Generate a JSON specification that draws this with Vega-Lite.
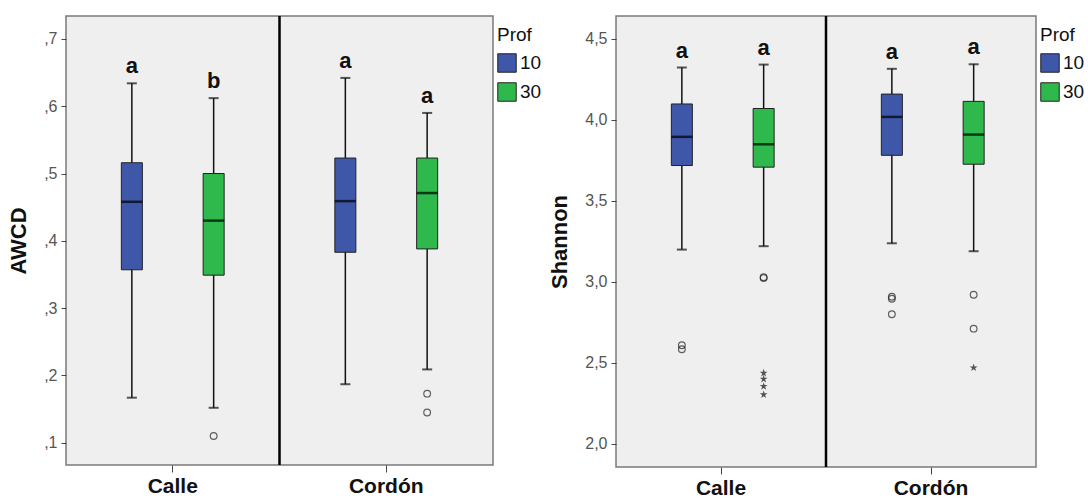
{
  "$schema": "https://vega.github.io/schema/vega-lite/v6.json",
  "padding": {"left": 6, "top": 14, "right": 0, "bottom": 0},
  "spacing": 5,
  "datasets": {
    "awcd": [
      {"Zona": "Calle", "Prof": "10", "lower": 0.167, "q1": 0.357, "median": 0.458, "q3": 0.516, "upper": 0.634, "Letra": "a"},
      {"Zona": "Calle", "Prof": "30", "lower": 0.152, "q1": 0.349, "median": 0.430, "q3": 0.500, "upper": 0.612, "Letra": "b"},
      {"Zona": "Cordón", "Prof": "10", "lower": 0.187, "q1": 0.383, "median": 0.459, "q3": 0.523, "upper": 0.642, "Letra": "a"},
      {"Zona": "Cordón", "Prof": "30", "lower": 0.209, "q1": 0.388, "median": 0.471, "q3": 0.523, "upper": 0.590, "Letra": "a"}
    ],
    "awcdOut": [
      {"Zona": "Calle", "Prof": "30", "valor": 0.110, "Tipo": "o"},
      {"Zona": "Cordón", "Prof": "30", "valor": 0.173, "Tipo": "o"},
      {"Zona": "Cordón", "Prof": "30", "valor": 0.145, "Tipo": "o"}
    ],
    "shannon": [
      {"Zona": "Calle", "Prof": "10", "lower": 3.198, "q1": 3.717, "median": 3.894, "q3": 4.097, "upper": 4.322, "Letra": "a"},
      {"Zona": "Calle", "Prof": "30", "lower": 3.219, "q1": 3.707, "median": 3.848, "q3": 4.069, "upper": 4.340, "Letra": "a"},
      {"Zona": "Cordón", "Prof": "10", "lower": 3.237, "q1": 3.780, "median": 4.017, "q3": 4.158, "upper": 4.314, "Letra": "a"},
      {"Zona": "Cordón", "Prof": "30", "lower": 3.188, "q1": 3.725, "median": 3.908, "q3": 4.113, "upper": 4.342, "Letra": "a"}
    ],
    "shannonOut": [
      {"Zona": "Calle", "Prof": "10", "valor": 2.608, "Tipo": "o"},
      {"Zona": "Calle", "Prof": "10", "valor": 2.583, "Tipo": "o"},
      {"Zona": "Calle", "Prof": "30", "valor": 3.028, "Tipo": "o"},
      {"Zona": "Calle", "Prof": "30", "valor": 3.022, "Tipo": "o"},
      {"Zona": "Calle", "Prof": "30", "valor": 2.436, "Tipo": "*"},
      {"Zona": "Calle", "Prof": "30", "valor": 2.399, "Tipo": "*"},
      {"Zona": "Calle", "Prof": "30", "valor": 2.354, "Tipo": "*"},
      {"Zona": "Calle", "Prof": "30", "valor": 2.303, "Tipo": "*"},
      {"Zona": "Cordón", "Prof": "10", "valor": 2.907, "Tipo": "o"},
      {"Zona": "Cordón", "Prof": "10", "valor": 2.895, "Tipo": "o"},
      {"Zona": "Cordón", "Prof": "10", "valor": 2.799, "Tipo": "o"},
      {"Zona": "Cordón", "Prof": "30", "valor": 2.919, "Tipo": "o"},
      {"Zona": "Cordón", "Prof": "30", "valor": 2.710, "Tipo": "o"},
      {"Zona": "Cordón", "Prof": "30", "valor": 2.469, "Tipo": "*"}
    ],
    "sep": [{"Zona": "Calle"}]
  },
  "hconcat": [
    {
      "width": 427,
      "height": 449,
      "layer": [
        {
          "data": {"name": "awcd"},
          "mark": {"type": "rule", "color": "#111", "strokeWidth": 1.5},
          "encoding": {
            "x": {"field": "Zona", "type": "nominal", "title": null, "sort": ["Calle", "Cordón"], "scale": {"domain": ["Calle", "Cordón"], "paddingInner": 0, "paddingOuter": 0}, "axis": {"labelAngle": 0}},
            "xOffset": {"field": "Prof", "type": "nominal", "scale": {"domain": ["10", "30"], "paddingInner": 0, "paddingOuter": 0.305}},
            "y": {"field": "lower", "type": "quantitative", "title": "AWCD", "scale": {"domain": [0.067, 0.734], "nice": false, "zero": false}, "axis": {"values": [0.1, 0.2, 0.3, 0.4, 0.5, 0.6, 0.7], "labelExpr": "replace(format(datum.value, '.1f'), '0.', ',')"}},
            "y2": {"field": "upper"}
          }
        },
        {
          "data": {"name": "awcd"},
          "mark": {"type": "tick", "color": "#111", "size": 10, "thickness": 2},
          "encoding": {
            "x": {"field": "Zona", "type": "nominal", "title": null},
            "xOffset": {"field": "Prof", "type": "nominal"},
            "y": {"field": "upper", "type": "quantitative", "title": "AWCD"}
          }
        },
        {
          "data": {"name": "awcd"},
          "mark": {"type": "tick", "color": "#111", "size": 10, "thickness": 2},
          "encoding": {
            "x": {"field": "Zona", "type": "nominal", "title": null},
            "xOffset": {"field": "Prof", "type": "nominal"},
            "y": {"field": "lower", "type": "quantitative", "title": "AWCD"}
          }
        },
        {
          "data": {"name": "awcd"},
          "mark": {"type": "bar", "width": 21, "stroke": "#222", "strokeWidth": 1, "opacity": 1},
          "encoding": {
            "x": {"field": "Zona", "type": "nominal", "title": null},
            "xOffset": {"field": "Prof", "type": "nominal"},
            "y": {"field": "q1", "type": "quantitative", "title": "AWCD"},
            "y2": {"field": "q3"},
            "color": {"field": "Prof", "type": "nominal", "scale": {"domain": ["10", "30"], "range": ["#3e57a9", "#2fb84b"]}, "legend": {"title": "Prof", "legendX": 431, "legendY": 10}}
          }
        },
        {
          "data": {"name": "awcd"},
          "mark": {"type": "tick", "color": "#000", "size": 21, "thickness": 2.5},
          "encoding": {
            "x": {"field": "Zona", "type": "nominal", "title": null},
            "xOffset": {"field": "Prof", "type": "nominal"},
            "y": {"field": "median", "type": "quantitative", "title": "AWCD"}
          }
        },
        {
          "data": {"name": "awcdOut"},
          "mark": {"type": "point", "shape": "circle", "filled": false, "size": 45, "color": "#222", "strokeWidth": 1.2},
          "encoding": {
            "x": {"field": "Zona", "type": "nominal", "title": null},
            "xOffset": {"field": "Prof", "type": "nominal"},
            "y": {"field": "valor", "type": "quantitative", "title": "AWCD"}
          }
        },
        {
          "data": {"name": "awcd"},
          "mark": {"type": "text", "fontSize": 22, "fontWeight": "bold", "color": "#111", "dy": -17, "baseline": "middle"},
          "encoding": {
            "x": {"field": "Zona", "type": "nominal", "title": null},
            "xOffset": {"field": "Prof", "type": "nominal"},
            "y": {"field": "upper", "type": "quantitative", "title": "AWCD"},
            "text": {"field": "Letra"}
          }
        },
        {
          "data": {"name": "sep"},
          "mark": {"type": "rule", "color": "#000", "strokeWidth": 2.5},
          "encoding": {
            "x": {"field": "Zona", "type": "nominal", "title": null, "bandPosition": 1}
          }
        }
      ]
    },
    {
      "width": 420,
      "height": 451,
      "layer": [
        {
          "data": {"name": "shannon"},
          "mark": {"type": "rule", "color": "#111", "strokeWidth": 1.5},
          "encoding": {
            "x": {"field": "Zona", "type": "nominal", "title": null, "sort": ["Calle", "Cordón"], "scale": {"domain": ["Calle", "Cordón"], "paddingInner": 0, "paddingOuter": 0}, "axis": {"labelAngle": 0}},
            "xOffset": {"field": "Prof", "type": "nominal", "scale": {"domain": ["10", "30"], "paddingInner": 0, "paddingOuter": 0.31}},
            "y": {"field": "lower", "type": "quantitative", "title": "Shannon", "scale": {"domain": [1.856, 4.64], "nice": false, "zero": false}, "axis": {"values": [2.0, 2.5, 3.0, 3.5, 4.0, 4.5], "labelExpr": "replace(format(datum.value, '.1f'), '.', ',')"}},
            "y2": {"field": "upper"}
          }
        },
        {
          "data": {"name": "shannon"},
          "mark": {"type": "tick", "color": "#111", "size": 10, "thickness": 2},
          "encoding": {
            "x": {"field": "Zona", "type": "nominal", "title": null},
            "xOffset": {"field": "Prof", "type": "nominal"},
            "y": {"field": "upper", "type": "quantitative", "title": "Shannon"}
          }
        },
        {
          "data": {"name": "shannon"},
          "mark": {"type": "tick", "color": "#111", "size": 10, "thickness": 2},
          "encoding": {
            "x": {"field": "Zona", "type": "nominal", "title": null},
            "xOffset": {"field": "Prof", "type": "nominal"},
            "y": {"field": "lower", "type": "quantitative", "title": "Shannon"}
          }
        },
        {
          "data": {"name": "shannon"},
          "mark": {"type": "bar", "width": 21, "stroke": "#222", "strokeWidth": 1, "opacity": 1},
          "encoding": {
            "x": {"field": "Zona", "type": "nominal", "title": null},
            "xOffset": {"field": "Prof", "type": "nominal"},
            "y": {"field": "q1", "type": "quantitative", "title": "Shannon"},
            "y2": {"field": "q3"},
            "color": {"field": "Prof", "type": "nominal", "scale": {"domain": ["10", "30"], "range": ["#3e57a9", "#2fb84b"]}, "legend": {"title": "Prof", "legendX": 424, "legendY": 10}}
          }
        },
        {
          "data": {"name": "shannon"},
          "mark": {"type": "tick", "color": "#000", "size": 21, "thickness": 2.5},
          "encoding": {
            "x": {"field": "Zona", "type": "nominal", "title": null},
            "xOffset": {"field": "Prof", "type": "nominal"},
            "y": {"field": "median", "type": "quantitative", "title": "Shannon"}
          }
        },
        {
          "data": {"name": "shannonOut"},
          "transform": [{"filter": "datum.Tipo === 'o'"}],
          "mark": {"type": "point", "shape": "circle", "filled": false, "size": 45, "color": "#222", "strokeWidth": 1.2},
          "encoding": {
            "x": {"field": "Zona", "type": "nominal", "title": null},
            "xOffset": {"field": "Prof", "type": "nominal"},
            "y": {"field": "valor", "type": "quantitative", "title": "Shannon"}
          }
        },
        {
          "data": {"name": "shannonOut"},
          "transform": [{"filter": "datum.Tipo === '*'"}],
          "mark": {"type": "point", "shape": "M0,-1L0.2245,-0.309L0.951,-0.309L0.363,0.118L0.588,0.809L0,0.382L-0.588,0.809L-0.363,0.118L-0.951,-0.309L-0.2245,-0.309Z", "filled": true, "size": 70, "color": "#111"},
          "encoding": {
            "x": {"field": "Zona", "type": "nominal", "title": null},
            "xOffset": {"field": "Prof", "type": "nominal"},
            "y": {"field": "valor", "type": "quantitative", "title": "Shannon"}
          }
        },
        {
          "data": {"name": "shannon"},
          "mark": {"type": "text", "fontSize": 22, "fontWeight": "bold", "color": "#111", "dy": -17, "baseline": "middle"},
          "encoding": {
            "x": {"field": "Zona", "type": "nominal", "title": null},
            "xOffset": {"field": "Prof", "type": "nominal"},
            "y": {"field": "upper", "type": "quantitative", "title": "Shannon"},
            "text": {"field": "Letra"}
          }
        },
        {
          "data": {"name": "sep"},
          "mark": {"type": "rule", "color": "#000", "strokeWidth": 2.5},
          "encoding": {
            "x": {"field": "Zona", "type": "nominal", "title": null, "bandPosition": 1}
          }
        }
      ]
    }
  ],
  "resolve": {"scale": {"color": "independent"}, "legend": {"color": "independent"}},
  "config": {
    "font": "Liberation Sans",
    "view": {"fill": "#efefef", "stroke": "#7a7a7a", "strokeWidth": 1.5},
    "axis": {"domain": false, "grid": false, "tickColor": "#444", "tickSize": 5, "tickWidth": 1},
    "axisX": {"labelFontSize": 21, "labelFontWeight": "bold", "labelColor": "#111", "tickSize": 7, "labelPadding": 3},
    "axisY": {"labelFontSize": 16, "labelColor": "#555", "labelPadding": 4, "titleFontSize": 22, "titleFontWeight": "bold", "titleColor": "#111", "titlePadding": 13},
    "legend": {"orient": "none", "titleFontSize": 19, "titleFontWeight": "normal", "titleColor": "#111", "labelFontSize": 19, "labelColor": "#111", "symbolType": "square", "symbolSize": 340, "symbolStrokeColor": "#222", "symbolStrokeWidth": 1, "rowPadding": 5, "titlePadding": 8, "labelOffset": 3, "padding": 0, "symbolOffset": 0}
  }
}
